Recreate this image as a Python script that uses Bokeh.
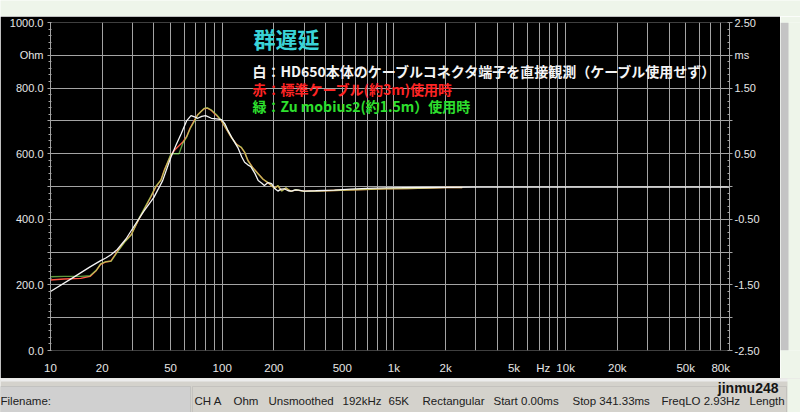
from bokeh.plotting import figure
from bokeh.models import Range1d, LinearAxis, FixedTicker, Label, BoxAnnotation, ColumnDataSource
from bokeh.layouts import column, row
from bokeh.embed import file_html
from bokeh.resources import INLINE

# ---------------- data ----------------
# white: HD650 body connector measured directly (Ohm scale, 500 Ohm = 0 ms)
freq_white = [10, 13.6, 17, 19.6, 21, 22.5, 24.5, 27.5, 30.6, 35, 40, 45, 50.3, 54, 57.6, 62,
              65.8, 69, 72, 76, 80, 86.5, 93, 99, 104, 108, 115, 123.5, 130, 135, 141, 147,
              155, 162, 170, 176, 185, 194, 202, 211, 220, 230, 242, 254, 266, 278, 300, 350,
              450, 560, 700, 900, 1500, 3000, 10000, 30000, 90000]
white_ohm = [180, 223, 255, 274, 282, 292, 308, 340, 378, 425, 467, 518, 590, 628, 660, 700,
             716, 712, 708, 714, 716, 708, 706, 704, 690, 671, 645, 618, 590, 574, 566, 560,
             540, 518, 510, 503, 512, 509, 494, 486, 492, 493, 487, 486, 490, 489, 486, 487,
             489, 492, 494, 496, 497, 498, 498, 498, 498]

# red (standard cable) and green (Zu mobius2)
freq_rg = [10, 12, 15, 17, 18.5, 19.6, 21, 22.5, 24.5, 27, 29.5, 33, 38.4, 41, 44, 46, 50.3,
           53, 56, 59, 62, 65, 68.6, 72, 75, 78.4, 82, 86.5, 93, 99, 106, 113, 121, 129, 135,
           141, 150, 162, 173, 185, 202, 211, 222, 235, 250, 270, 300, 400, 600, 900, 1200,
           1600, 2000, 2500]
red_ohm = [215, 218, 220, 226, 244, 263, 270, 273, 302, 332, 353, 404, 468, 498, 520, 550, 596,
           612, 624, 636, 652, 678, 700, 719, 728, 737, 739, 732, 716, 700, 674, 650, 629, 619,
           604, 580, 559, 539, 522, 511, 495, 502, 487, 495, 486, 489, 486, 487, 490, 493, 494,
           495, 497, 497]
green_ohm = [225, 226, 226, 228, 245, 264, 271, 272, 300, 330, 352, 406, 470, 500, 520, 548, 600,
             600, 600, 632, 650, 676, 698, 718, 728, 738, 740, 733, 718, 701, 675, 650, 628, 620,
             605, 579, 558, 538, 522, 512, 494, 503, 486, 496, 485, 490, 485, 487, 490, 493, 494,
             495, 497, 497]

# axis ticks / labels
x_ticks = [10, 20, 50, 100, 200, 500, 1000, 2000, 5000, 7400, 10000, 20000, 50000, 80000]
x_labels = ["10", "20", "50", "100", "200", "500", "1k", "2k", "5k", "Hz", "10k", "20k", "50k", "80k"]
x_grid = [d * 10 ** k for k in range(1, 5) for d in range(1, 10)]
y_ticks = list(range(0, 1001, 100))
y_labels = ["0.0", "", "200.0", "", "400.0", "", "600.0", "", "800.0", "Ohm", "1000.0"]
ms_ticks = [-2.5, -2.0, -1.5, -1.0, -0.5, 0.0, 0.5, 1.0, 1.5, 2.0, 2.5]
ms_labels = ["-2.50", "", "-1.50", "", "-0.50", "", "0.50", "", "1.50", "ms", "2.50"]

title_text = "群遅延"
legend_white = "白：HD650本体のケーブルコネクタ端子を直接観測（ケーブル使用せず）"
legend_red = "赤：標準ケーブル(約3m)使用時"
legend_green = "緑：Zu mobius2(約1.5m）使用時"

status_items = ["CH A", "Ohm", "Unsmoothed", "192kHz", "65K", "Rectangular",
                "Start 0.00ms", "Stop 341.33ms", "FreqLO 2.93Hz", "Length"]
status_x = [194, 233, 268, 342, 388, 422, 493, 572, 661, 749]

# ---------------- main chart ----------------
GRID = "#a4a4a4"
TXT = "#e6e6e6"
PAPER = "#eef5ea"
AXF = "Liberation Sans"
AXS = "11px"
p = figure(width=780, height=362, x_axis_type="log",
           x_range=Range1d(10, 90000), y_range=Range1d(0, 1000),
           output_backend="svg", toolbar_location=None,
           background_fill_color="black", border_fill_color="black",
           min_border_left=50, min_border_right=51, min_border_top=6, min_border_bottom=28)
p.outline_line_color = None

p.xgrid.ticker = FixedTicker(ticks=x_grid)
p.ygrid.ticker = FixedTicker(ticks=y_ticks)
for g in (p.xgrid[0], p.ygrid[0]):
    g.grid_line_color = GRID
    g.grid_line_width = 1

xa = p.xaxis[0]
xa.ticker = FixedTicker(ticks=x_ticks)
xa.major_label_overrides = {t: l for t, l in zip(x_ticks, x_labels)}
xa.axis_line_color = None
xa.major_tick_line_color = None
xa.minor_tick_line_color = None
xa.major_label_standoff = 5
xa.major_label_text_color = TXT
xa.major_label_text_font = AXF
xa.major_label_text_font_size = "11.5px"

ya = p.yaxis[0]
ya.ticker = FixedTicker(ticks=y_ticks, minor_ticks=list(range(0, 1001, 20)))
ya.major_label_overrides = {t: l for t, l in zip(y_ticks, y_labels)}
ya.axis_line_color = GRID
ya.major_tick_line_color = GRID
ya.minor_tick_line_color = GRID
ya.major_tick_out = 3
ya.major_tick_in = 0
ya.minor_tick_out = 2
ya.minor_tick_in = 1
ya.major_label_standoff = 4
ya.major_label_text_color = TXT
ya.major_label_text_font = AXF
ya.major_label_text_font_size = AXS

p.extra_y_ranges = {"ms": Range1d(-2.5, 2.5)}
ra = LinearAxis(y_range_name="ms")
ra.ticker = FixedTicker(ticks=ms_ticks, minor_ticks=[-2.5 + 0.1 * i for i in range(51)])
ra.major_label_overrides = {t: l for t, l in zip(ms_ticks, ms_labels)}
ra.axis_line_color = GRID
ra.major_tick_line_color = GRID
ra.minor_tick_line_color = GRID
ra.major_tick_out = 3
ra.major_tick_in = 0
ra.minor_tick_out = 0
ra.minor_tick_in = 2
ra.major_label_standoff = 2
ra.major_label_text_color = TXT
ra.major_label_text_font = AXF
ra.major_label_text_font_size = AXS
p.add_layout(ra, "right")

src_w = ColumnDataSource(dict(f=freq_white, v=white_ohm))
src_rg = ColumnDataSource(dict(f=freq_rg, r=red_ohm, g=green_ohm))
p.line("f", "r", source=src_rg, line_color="#ff5544", line_width=1.4)
p.line("f", "g", source=src_rg, line_color="#99ff66", line_width=1.4, line_alpha=0.6)
p.line("f", "v", source=src_w, line_color="#f4f4f4", line_width=1.3)

jp = "Noto Sans CJK JP"
p.add_layout(Label(x=152, y=954, text=title_text, text_font=jp, text_font_style="bold",
                   text_font_size="22px", text_color="#3ad4d8", text_baseline="middle"))
p.add_layout(Label(x=150, y=851, text=legend_white, text_font=jp, text_font_style="bold",
                   text_font_size="14px", text_color="#f4f4f4", text_baseline="middle"))
p.add_layout(Label(x=150, y=796, text=legend_red, text_font=jp, text_font_style="bold",
                   text_font_size="14px", text_color="#ff2424", text_baseline="middle"))
p.add_layout(Label(x=150, y=744, text=legend_green, text_font=jp, text_font_style="bold",
                   text_font_size="14px", text_color="#2ee02e", text_baseline="middle"))


# ---------------- window chrome ----------------
def chrome(w, h, color):
    f = figure(width=w, height=h, x_range=Range1d(0, w), y_range=Range1d(0, h),
               output_backend="svg", toolbar_location=None,
               background_fill_color=color, border_fill_color=color,
               min_border=0, x_axis_location=None, y_axis_location=None)
    f.outline_line_color = None
    f.xgrid.visible = False
    f.ygrid.visible = False
    return f


top_band = chrome(800, 16, PAPER)
right_band = chrome(20, 362, PAPER)
right_band.add_layout(BoxAnnotation(left=0, right=8, bottom=0, top=362, fill_color="#c4c4c4",
                                    fill_alpha=1, line_color=None))

s = chrome(800, 34, "#d4d2cc")
s.add_layout(BoxAnnotation(left=0, right=800, bottom=31, top=34, fill_color="#ececec",
                           fill_alpha=1, line_color=None))
s.add_layout(BoxAnnotation(left=0, right=190, bottom=0, top=26, fill_color="#d0d0d0",
                           fill_alpha=1, line_color="#a0a0a0", line_width=1))
s.add_layout(BoxAnnotation(left=192, right=786, bottom=0, top=26, fill_color="#d4d2cc",
                           fill_alpha=1, line_color="#a0a0a0", line_width=1))
s.add_layout(BoxAnnotation(left=787, right=800, bottom=0, top=34, fill_color=PAPER,
                           fill_alpha=1, line_color=None))
SF = "Liberation Sans"
s.add_layout(Label(x=0, y=12, text="Filename:", text_font=SF, text_font_size="11.5px",
                   text_color="#202020", text_baseline="middle"))
for t, xx in zip(status_items, status_x):
    s.add_layout(Label(x=xx, y=12, text=t, text_font=SF, text_font_size="11.5px",
                       text_color="#202020", text_baseline="middle"))
s.add_layout(Label(x=778, y=25, text="jinmu248", text_font=SF, text_font_style="bold",
                   text_font_size="14px", text_color="#151515", text_baseline="middle",
                   text_align="right"))

layout = column(top_band, row(p, right_band), s)
open("out.html", "w").write(file_html(layout, INLINE))
